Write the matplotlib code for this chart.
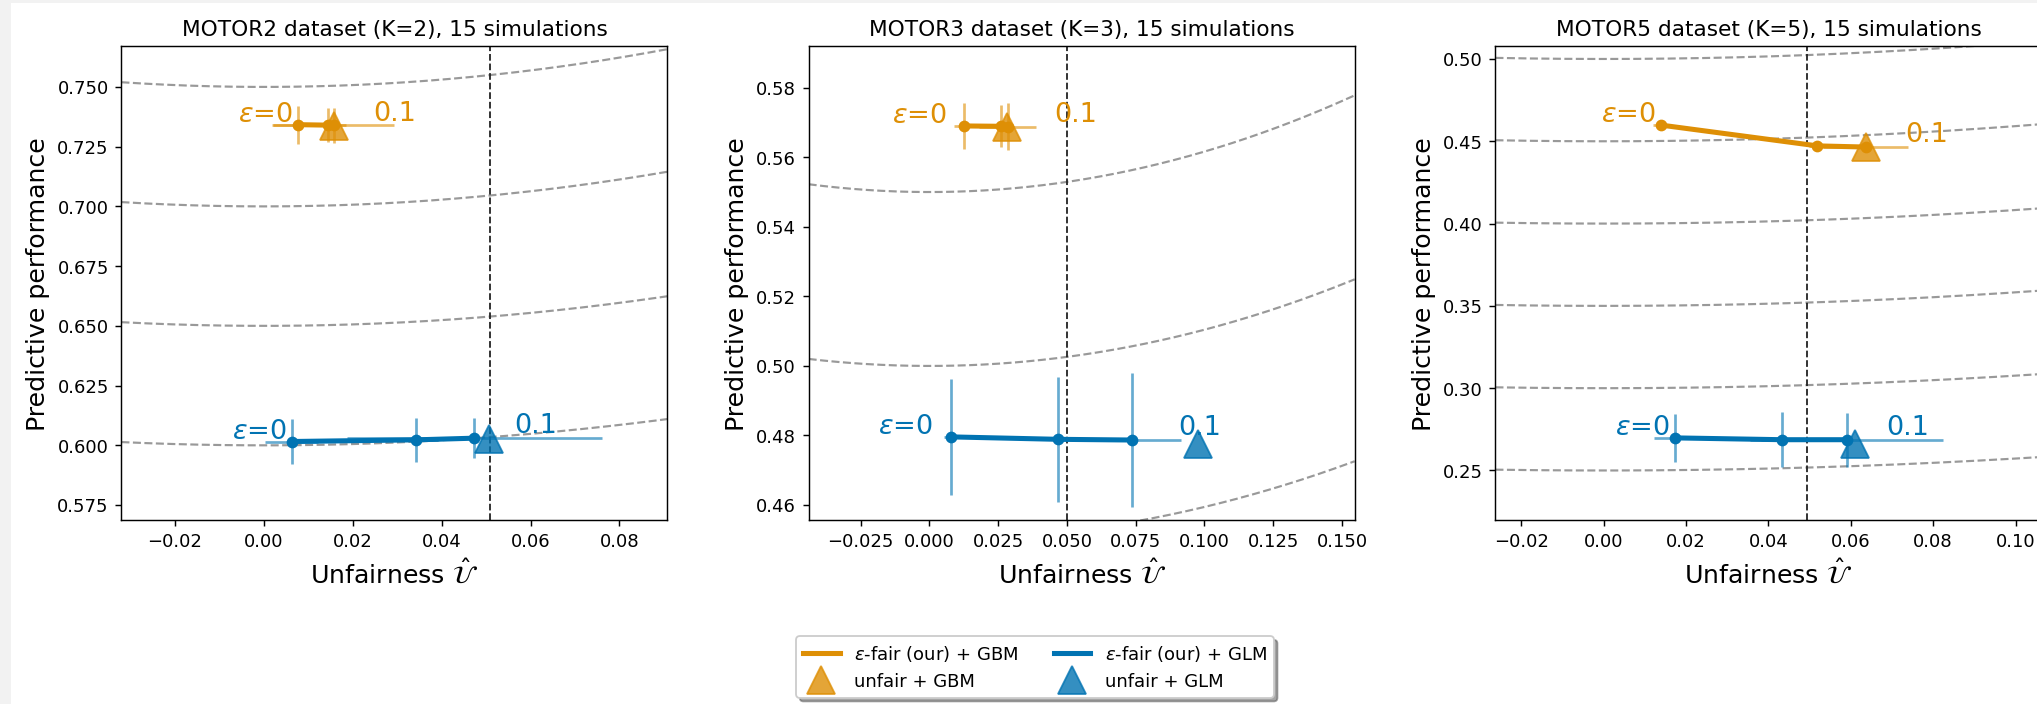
import numpy as np
import matplotlib
matplotlib.use("Agg")
import matplotlib.pyplot as plt
from matplotlib.patches import Rectangle
from matplotlib.lines import Line2D

# ---- data -----------------------------------------------------------------
DATASETS = ["MOTOR2", "MOTOR3", "MOTOR5"]
K_GROUPS = [2, 3, 5]
N_SIM = 15
EPSILONS = [0.0, 0.05, 0.1]

# epsilon-fair + GBM (one row per dataset, one value per epsilon)
gbm_unfair = [[0.0078, 0.0145, 0.0157], [0.0127, 0.0262, 0.0285], [0.0140, 0.0519, 0.0636]]
gbm_perf = [[0.7342, 0.7340, 0.7339], [0.5690, 0.5689, 0.5688], [0.4598, 0.4472, 0.4465]]
gbm_unfair_err = [[0.0060, 0.0040, 0.0137], [0.0036, 0.0040, 0.0104], [0.0020, 0.0020, 0.0104]]
gbm_perf_err = [[0.0080, 0.0070, 0.0073], [0.0066, 0.0060, 0.0067], [0.0020, 0.0030, 0.0020]]

# epsilon-fair + GLM
glm_unfair = [[0.0063, 0.0343, 0.0474], [0.0079, 0.0468, 0.0735], [0.0174, 0.0433, 0.0590]]
glm_perf = [[0.6016, 0.6023, 0.6030], [0.4796, 0.4789, 0.4787], [0.2698, 0.2687, 0.2687]]
glm_unfair_err = [[0.0060, 0.0050, 0.0287], [0.0025, 0.0050, 0.0178], [0.0051, 0.0050, 0.0234]]
glm_perf_err = [[0.0096, 0.0091, 0.0084], [0.0167, 0.0180, 0.0193], [0.0148, 0.0167, 0.0165]]

# unfair baselines
unfair_gbm_x = [0.0157, 0.0281, 0.0636]
unfair_gbm_y = [0.7337, 0.5686, 0.4463]
unfair_glm_x = [0.0506, 0.0978, 0.0610]
unfair_glm_y = [0.6025, 0.4776, 0.2663]

# vertical reference (dashed black)
vline_x = [0.0509, 0.0499, 0.0494]

# gray iso-performance curves: level at x=0 and rise reached at the right x-limit
iso_levels = [[0.60, 0.65, 0.70, 0.75], [0.45, 0.50, 0.55], [0.25, 0.30, 0.35, 0.40, 0.45, 0.50]]
iso_rise = [[0.0110, 0.0124, 0.0145, 0.0158], [0.0226, 0.0249, 0.0278],
            [0.0082, 0.0086, 0.0093, 0.0093, 0.0104, 0.0110]]

x_limits = [(-0.0320, 0.0908), (-0.0439, 0.1546), (-0.0263, 0.1063)]
y_limits = [(0.5686, 0.7670), (0.4556, 0.5919), (0.2197, 0.5077)]

# ---- style ----------------------------------------------------------------
C_GBM = "#DE8F05"
C_GLM = "#0173B2"
DPI = 130
AX_LEFT = [0.0596, 0.3969, 0.7340]
AX_BOTTOM, AX_W, AX_H = 0.2607, 0.268, 0.673
EPS0_DX = [-3, -10, -3]   # points
EPS1_DX = [22, 26, 22]


def draw_series(ax, xs, ys, xerr, yerr, color, dx0, dx1):
    ax.errorbar(xs, ys, xerr=xerr, yerr=yerr, fmt="none", ecolor=color,
                alpha=0.6, elinewidth=1.5, capsize=0, zorder=3)
    ax.plot(xs, ys, "-o", color=color, lw=2.8, ms=5.5, zorder=4)
    ax.annotate(r"$\varepsilon$=0", (xs[0], ys[0]), xytext=(dx0, -1.5), textcoords="offset points",
                ha="right", va="bottom", color=color, fontsize=15)
    ax.annotate("0.1", (xs[-1], ys[-1]), xytext=(dx1, -0.5), textcoords="offset points",
                ha="left", va="bottom", color=color, fontsize=15)


def main():
    fig = plt.figure(figsize=(2037.4 / DPI, 704.4 / DPI), dpi=DPI)
    fig.patch.set_facecolor("white")
    # light gray screenshot border on the left and top
    fig.add_artist(Rectangle((0, 0), 11 / 2037, 1, transform=fig.transFigure,
                             facecolor="#f2f2f2", edgecolor="none", zorder=-5))
    fig.add_artist(Rectangle((0, 1 - 3.3 / 704), 1, 3.3 / 704, transform=fig.transFigure,
                             facecolor="#f2f2f2", edgecolor="none", zorder=-5))

    for i in range(3):
        ax = fig.add_axes([AX_LEFT[i], AX_BOTTOM, AX_W, AX_H])
        x0, x1 = x_limits[i]
        xs = np.linspace(x0, x1, 300)
        for lev, rise in zip(iso_levels[i], iso_rise[i]):
            ax.plot(xs, lev + rise * (xs / x1) ** 2, ls="--", color="gray", alpha=0.8, lw=1.2, zorder=1)
        ax.axvline(vline_x[i], color="#222222", ls="--", lw=1.0, zorder=2)

        draw_series(ax, gbm_unfair[i], gbm_perf[i], gbm_unfair_err[i], gbm_perf_err[i],
                    C_GBM, EPS0_DX[i], EPS1_DX[i])
        draw_series(ax, glm_unfair[i], glm_perf[i], glm_unfair_err[i], glm_perf_err[i],
                    C_GLM, EPS0_DX[i], EPS1_DX[i])
        ax.plot(unfair_gbm_x[i], unfair_gbm_y[i], "^", color=C_GBM, ms=15, alpha=0.8, zorder=5)
        ax.plot(unfair_glm_x[i], unfair_glm_y[i], "^", color=C_GLM, ms=15, alpha=0.8, zorder=5)

        ax.set_xlim(x0, x1)
        ax.set_ylim(*y_limits[i])
        ax.tick_params(labelsize=10)
        ax.set_title(f"{DATASETS[i]} dataset (K={K_GROUPS[i]}), {N_SIM} simulations", fontsize=12)
        ax.set_xlabel(r"Unfairness $\hat{\mathcal{U}}$", fontsize=14)
        ax.set_ylabel("Predictive performance", fontsize=14)

    handles = [
        Line2D([], [], color=C_GBM, lw=2.8),
        Line2D([], [], ls="none", marker="^", color=C_GBM, ms=15, alpha=0.8),
        Line2D([], [], color=C_GLM, lw=2.8),
        Line2D([], [], ls="none", marker="^", color=C_GLM, ms=15, alpha=0.8),
    ]
    labels = [r"$\varepsilon$-fair (our) + GBM", "unfair + GBM",
              r"$\varepsilon$-fair (our) + GLM", "unfair + GLM"]
    fig.legend(handles, labels, ncol=2, loc="lower center", bbox_to_anchor=(0.508, -0.004),
               fontsize=10, shadow=True, framealpha=1)

    fig.savefig("out.png", dpi=DPI)
    plt.close(fig)


if __name__ == "__main__":
    main()
